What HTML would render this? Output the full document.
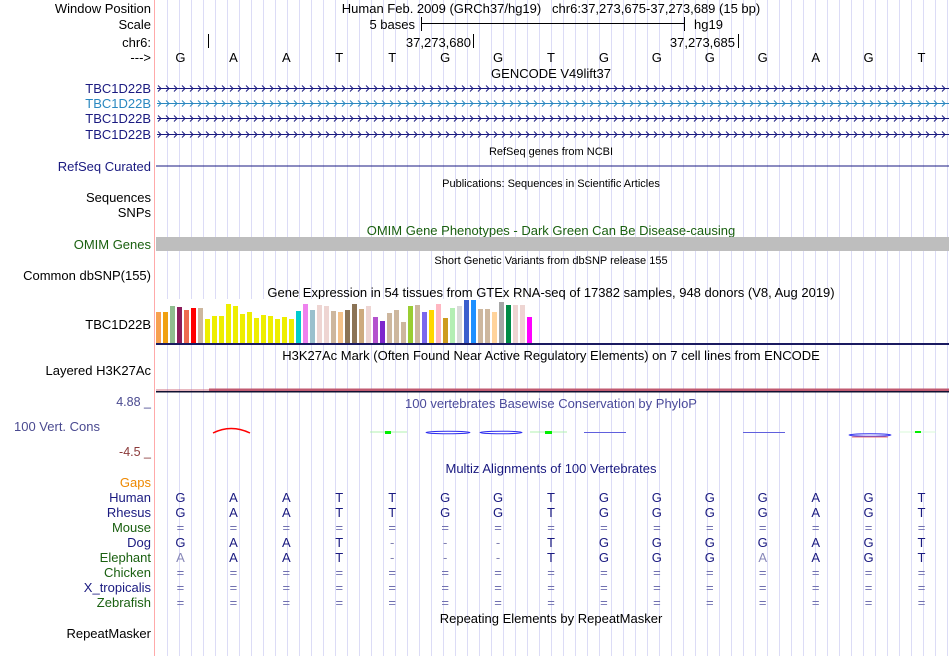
<!DOCTYPE html>
<html><head><meta charset="utf-8"><style>
html,body{margin:0;padding:0;background:#fff;}
svg{display:block;font-family:"Liberation Sans",sans-serif;}
</style></head><body>
<svg id="g" width="950" height="656" viewBox="0 0 950 656" xmlns="http://www.w3.org/2000/svg">
<g id="grid"></g>
<line x1="154.5" y1="0" x2="154.5" y2="656" stroke="#ffaaaa"/>
<g font-size="13" fill="#000" text-anchor="end">
<text x="151" y="13">Window Position</text>
<text x="151" y="29">Scale</text>
<text x="151" y="47">chr6:</text>
<text x="151" y="62">---&gt;</text>
</g>
<text x="551" y="13" font-size="13" text-anchor="middle">Human Feb. 2009 (GRCh37/hg19)&#160;&#160;&#160;chr6:37,273,675-37,273,689 (15 bp)</text>
<text x="415" y="29" font-size="13" text-anchor="end">5 bases</text>
<g stroke="#000"><line x1="421" y1="23.5" x2="684" y2="23.5"/><line x1="421.5" y1="17" x2="421.5" y2="31"/><line x1="684.5" y1="17" x2="684.5" y2="31"/></g>
<text x="694" y="29" font-size="13">hg19</text>
<g stroke="#000"><line x1="208.5" y1="34" x2="208.5" y2="48"/><line x1="473.5" y1="34" x2="473.5" y2="48"/><line x1="738.5" y1="34" x2="738.5" y2="48"/></g>
<text x="471" y="47" font-size="13" text-anchor="end">37,273,680</text>
<text x="735" y="47" font-size="13" text-anchor="end">37,273,685</text>
<g id="bases" font-size="13" text-anchor="middle"></g>
<text x="551" y="78" font-size="13" text-anchor="middle">GENCODE V49lift37</text>
<g font-size="13" text-anchor="end">
<text x="151" y="93" fill="#1a1a80">TBC1D22B</text>
<text x="151" y="108" fill="#2a88c0">TBC1D22B</text>
<text x="151" y="123" fill="#1a1a80">TBC1D22B</text>
<text x="151" y="139" fill="#1a1a80">TBC1D22B</text>
</g>
<g id="genes"></g>
<text x="551" y="155" font-size="11" text-anchor="middle">RefSeq genes from NCBI</text>
<text x="151" y="171" font-size="13" text-anchor="end" fill="#1a1a80">RefSeq Curated</text>
<line x1="156" y1="166" x2="949" y2="166" stroke="#1a1a80"/>
<text x="551" y="187" font-size="11" text-anchor="middle">Publications: Sequences in Scientific Articles</text>
<text x="151" y="202" font-size="13" text-anchor="end">Sequences</text>
<text x="151" y="217" font-size="13" text-anchor="end">SNPs</text>
<text x="551" y="235" font-size="13" text-anchor="middle" fill="#1a6010">OMIM Gene Phenotypes - Dark Green Can Be Disease-causing</text>
<text x="151" y="249" font-size="13" text-anchor="end" fill="#1a6010">OMIM Genes</text>
<rect x="156" y="237" width="793" height="14" fill="#bebebe"/>
<text x="551" y="264" font-size="11" text-anchor="middle">Short Genetic Variants from dbSNP release 155</text>
<text x="151" y="280" font-size="13" text-anchor="end">Common dbSNP(155)</text>
<text x="551" y="297" font-size="13" text-anchor="middle">Gene Expression in 54 tissues from GTEx RNA-seq of 17382 samples, 948 donors (V8, Aug 2019)</text>
<text x="151" y="329" font-size="13" text-anchor="end">TBC1D22B</text>
<rect x="156" y="299" width="378" height="44" fill="#fff"/>
<g id="gtex"></g>
<rect x="156" y="343" width="793" height="2" fill="#1a1a60"/>
<text x="551" y="360" font-size="13" text-anchor="middle">H3K27Ac Mark (Often Found Near Active Regulatory Elements) on 7 cell lines from ENCODE</text>
<text x="151" y="375" font-size="13" text-anchor="end">Layered H3K27Ac</text>
<line x1="156" y1="390" x2="209" y2="390" stroke="#d07080"/>
<rect x="209" y="388.5" width="740" height="2.5" fill="#c05a70"/>
<rect x="156" y="391" width="793" height="1.5" fill="#101030"/>
<text x="151" y="406" font-size="12.5" text-anchor="end" fill="#4a4a90">4.88 _</text>
<text x="551" y="408" font-size="13" text-anchor="middle" fill="#4a4a9a">100 vertebrates Basewise Conservation by PhyloP</text>
<text x="14" y="431" font-size="13" fill="#4a4a90">100 Vert. Cons</text>
<text x="151" y="456" font-size="12.5" text-anchor="end" fill="#8b3a3a">-4.5 _</text>
<g id="cons"></g>
<text x="551" y="473" font-size="13" text-anchor="middle" fill="#1a1a80">Multiz Alignments of 100 Vertebrates</text>
<text x="151" y="487" font-size="13" text-anchor="end" fill="#ee8800">Gaps</text>
<g id="aln" font-size="13"></g>
<text x="551" y="623" font-size="13" text-anchor="middle">Repeating Elements by RepeatMasker</text>
<text x="151" y="638" font-size="13" text-anchor="end">RepeatMasker</text>
</svg>
<script>
const refBases = ["G","A","A","T","T","G","G","T","G","G","G","G","A","G","T"];
const species = ["Human","Rhesus","Mouse","Dog","Elephant","Chicken","X_tropicalis","Zebrafish"];
const speciesColors = ["#1a1a80","#1a1a80","#1a6010","#1a1a80","#1a6010","#1a6010","#1a1a80","#1a6010"];
const alnRows = [
 "GAATTGGTGGGGAGT",
 "GAATTGGTGGGGAGT",
 "===============",
 "GAAT---TGGGGAGT",
 "aAAT---TGGGaAGT",
 "===============",
 "===============",
 "==============="];
const gtexValues = [31,31,37,36,33,35,35,24,27,27,39,37,29,31,25,28,27,24,26,24,32,39,33,38,37,32,31,33,39,34,37,26,22,30,33,21,37,38,31,33,39,25,35,37,43,43,34,34,31,41,38,38,38,26];
const gtexColors = ["#f7a050","#f0a010","#8fbc8f","#8b1a5a","#ee6a50","#ff0000","#cdb79e","#eeee00","#eeee00","#eeee00","#eeee00","#eeee00","#eeee00","#eeee00","#eeee00","#eeee00","#eeee00","#eeee00","#eeee00","#eeee00","#00cdcd","#ee82ee","#9ac0cd","#eed5d2","#eed5d2","#cdb79e","#f4c28a","#8b7355","#8b7355","#cdaa7d","#eed5d2","#b452cd","#7d26cd","#cdb79e","#cdb79e","#cdb79e","#9acd32","#cdb79e","#7b68ee","#ffd700","#ffb6c1","#cd9b1d","#b4eeb4","#d9d9d9","#3a5fcd","#1e90ff","#cdb79e","#cdb79e","#ffd39b","#a6a6a6","#008b45","#eed5d2","#eed5d2","#ff00ff"];
const NS="http://www.w3.org/2000/svg";
function mk(tag,attrs,parent){const e=document.createElementNS(NS,tag);for(const k in attrs)e.setAttribute(k,attrs[k]);parent.appendChild(e);return e;}
const X0=155, X1=949, bw=(X1-X0)/refBases.length;
function bx(i){return X0+(i+0.5)*bw;}
const grid=document.getElementById('grid');
for(let x=167;x<950;x+=12){const l=mk('line',{x1:x+.5,y1:0,x2:x+.5,y2:656,stroke:'#dcdcf6'},grid);

}
const bases=document.getElementById('bases');
refBases.forEach((b,i)=>{const t=mk('text',{x:bx(i)-1,y:62},bases);t.textContent=b;

});
const genes=document.getElementById('genes');
[[88,'#1a1a80'],[103,'#2a88c0'],[118,'#1a1a80'],[134,'#1a1a80']].forEach(([y,c],k)=>{
 const g=mk('g',{stroke:c,fill:'none'},genes);
 
 
 mk('line',{x1:157,y1:y+.5,x2:949,y2:y+.5},g);
 let d='';for(let x=158;x<948;x+=8){d+=`M${x},${y-2.5}L${x+3},${y+.5}L${x},${y+3.5}`;}
 mk('path',{d:d},g);
});
const gtex=document.getElementById('gtex');
const gBase=343, gPitch=7, gx0=156;
function gy(v){return gBase-v;}
gtexValues.forEach((v,i)=>{const r=mk('rect',{x:gx0+i*gPitch,y:gy(v),width:5,height:gBase-gy(v),fill:gtexColors[i]},gtex);

});
const cons=document.getElementById('cons');
const cy=432;
[
 ['path',{d:`M213,${cy+1}Q231,${cy-8} 250,${cy+1}`,stroke:'#ff0000',fill:'none','stroke-width':1.5}],
 ['line',{x1:370,y1:cy,x2:407,y2:cy,stroke:'#b0f0b0'}],
 ['rect',{x:385,y:cy-1,width:6,height:3,fill:'#00ee00'}],
 ['ellipse',{cx:448,cy:cy+.5,rx:22,ry:1.3,stroke:'#3030ee',fill:'#fff','stroke-width':1}],
 ['ellipse',{cx:501,cy:cy+.5,rx:21,ry:1.3,stroke:'#3030ee',fill:'#fff','stroke-width':1}],
 ['line',{x1:530,y1:cy,x2:567,y2:cy,stroke:'#b0f0b0'}],
 ['rect',{x:545,y:cy-1,width:7,height:3,fill:'#00ee00'}],
 ['line',{x1:584,y1:cy+.5,x2:626,y2:cy+.5,stroke:'#6060dd'}],
 ['line',{x1:743,y1:cy+.5,x2:785,y2:cy+.5,stroke:'#6060dd'}],
 ['ellipse',{cx:870,cy:cy+3,rx:21,ry:1.3,stroke:'#3030ee',fill:'#fff','stroke-width':1}],
 ['line',{x1:852,y1:cy+5,x2:888,y2:cy+5,stroke:'#ee7070'}],
 ['line',{x1:899,y1:cy,x2:936,y2:cy,stroke:'#d8f8d8'}],
 ['rect',{x:915,y:cy-1,width:6,height:2,fill:'#00ee00'}]
].forEach(([t,a],i)=>{const e=mk(t,a,cons);

});
const aln=document.getElementById('aln');
species.forEach((s,r)=>{const y=502+r*15;
 const t=mk('text',{x:151,y:y,'text-anchor':'end',fill:speciesColors[r]},aln);t.textContent=s;
 
 
 alnRows[r].split('').forEach((c,i)=>{
  let ch=c, col='#1a1a80';
  if(c==='='){col='#7070b0';}
  else if(c==='-'){col='#8080b0';}
  else if(c===c.toLowerCase()){ch=c.toUpperCase();col='#8888b8';}
  const b=mk('text',{x:bx(i)-1,y:y,'text-anchor':'middle',fill:col},aln);b.textContent=ch;
  
  
 });
});
</script>
</body></html>
